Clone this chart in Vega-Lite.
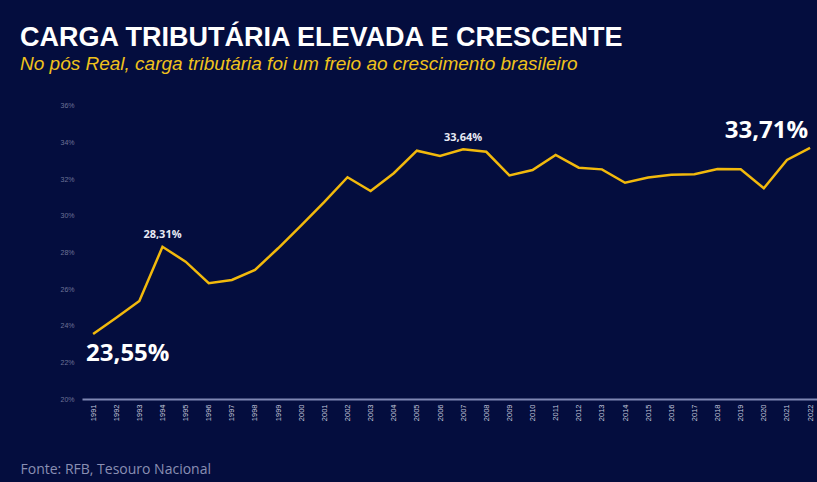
{
  "$schema": "https://vega.github.io/schema/vega-lite/v6.json",
  "width": 735,
  "height": 304,
  "autosize": {"type": "none"},
  "padding": {"left": 82, "top": 95, "right": 0, "bottom": 83},
  "background": "#040d3e",
  "config": {"view": {"stroke": null}},
  "title": {
    "text": "CARGA TRIBUTÁRIA ELEVADA E CRESCENTE",
    "subtitle": "No pós Real, carga tributária foi um freio ao crescimento brasileiro",
    "anchor": "start",
    "frame": "group",
    "dx": -62,
    "offset": 20,
    "font": "Liberation Sans",
    "fontSize": 27,
    "fontWeight": "bold",
    "color": "#ffffff",
    "subtitleFont": "Liberation Sans",
    "subtitleFontStyle": "italic",
    "subtitleFontSize": 19,
    "subtitleColor": "#f0c21c",
    "subtitlePadding": 3
  },
  "data": {
    "values": [
      {"ano": 1991, "valor": 23.55, "lbl": "23,55%", "kind": "bigL"},
      {"ano": 1992, "valor": 24.44},
      {"ano": 1993, "valor": 25.35},
      {"ano": 1994, "valor": 28.31, "lbl": "28,31%", "kind": "small"},
      {"ano": 1995, "valor": 27.5},
      {"ano": 1996, "valor": 26.32},
      {"ano": 1997, "valor": 26.5},
      {"ano": 1998, "valor": 27.05},
      {"ano": 1999, "valor": 28.23},
      {"ano": 2000, "valor": 29.48},
      {"ano": 2001, "valor": 30.76},
      {"ano": 2002, "valor": 32.11},
      {"ano": 2003, "valor": 31.36},
      {"ano": 2004, "valor": 32.33},
      {"ano": 2005, "valor": 33.56},
      {"ano": 2006, "valor": 33.27},
      {"ano": 2007, "valor": 33.64, "lbl": "33,64%", "kind": "small"},
      {"ano": 2008, "valor": 33.5},
      {"ano": 2009, "valor": 32.21},
      {"ano": 2010, "valor": 32.5},
      {"ano": 2011, "valor": 33.33},
      {"ano": 2012, "valor": 32.63},
      {"ano": 2013, "valor": 32.54},
      {"ano": 2014, "valor": 31.81},
      {"ano": 2015, "valor": 32.09},
      {"ano": 2016, "valor": 32.25},
      {"ano": 2017, "valor": 32.27},
      {"ano": 2018, "valor": 32.56},
      {"ano": 2019, "valor": 32.54},
      {"ano": 2020, "valor": 31.51},
      {"ano": 2021, "valor": 33.05},
      {"ano": 2022, "valor": 33.71, "lbl": "33,71%", "kind": "bigR"}
    ]
  },
  "encoding": {
    "x": {
      "field": "ano",
      "type": "quantitative",
      "scale": {"domain": [1990.52, 2022.3], "nice": false, "zero": false},
      "axis": {
        "values": [1991,1992,1993,1994,1995,1996,1997,1998,1999,2000,2001,2002,2003,2004,2005,2006,2007,2008,2009,2010,2011,2012,2013,2014,2015,2016,2017,2018,2019,2020,2021,2022],
        "format": "d",
        "labelAngle": -90,
        "labelFontSize": 7.5,
        "labelFont": "Liberation Sans",
        "labelColor": "#c5c8dc",
        "labelPadding": 5,
        "domainColor": "#7f87b3",
        "domainWidth": 2,
        "ticks": false,
        "grid": false,
        "title": "Fonte: RFB, Tesouro Nacional",
        "titleX": -62,
        "titleY": 74,
        "titleAlign": "left",
        "titleAnchor": "start",
        "titleBaseline": "alphabetic",
        "titleFont": "Open Sans",
        "titleFontSize": 14,
        "titleFontWeight": "normal",
        "titleColor": "#8a8fb3"
      }
    },
    "y": {
      "field": "valor",
      "type": "quantitative",
      "scale": {"domain": [20, 36.6], "nice": false, "zero": false},
      "axis": {
        "values": [20, 22, 24, 26, 28, 30, 32, 34, 36],
        "labelExpr": "datum.value + '%'",
        "labelFontSize": 7,
        "labelFont": "Liberation Sans",
        "labelColor": "#6e7398",
        "labelPadding": 8,
        "domain": false,
        "ticks": false,
        "grid": false,
        "title": null
      }
    }
  },
  "layer": [
    {
      "mark": {"type": "line", "color": "#f2b90c", "strokeWidth": 2.5}
    },
    {
      "transform": [{"filter": "datum.kind == 'small'"}],
      "mark": {"type": "text", "font": "Open Sans", "fontSize": 11, "fontWeight": "bold", "color": "#e8eaf4", "align": "center", "baseline": "alphabetic", "dy": -8.5},
      "encoding": {"text": {"field": "lbl"}}
    },
    {
      "transform": [{"filter": "datum.kind == 'bigL'"}],
      "mark": {"type": "text", "font": "Open Sans", "fontSize": 24, "fontWeight": "bold", "color": "#ffffff", "align": "left", "baseline": "alphabetic", "dx": -7, "dy": 27},
      "encoding": {"text": {"field": "lbl"}}
    },
    {
      "transform": [{"filter": "datum.kind == 'bigR'"}],
      "mark": {"type": "text", "font": "Open Sans", "fontSize": 24, "fontWeight": "bold", "color": "#ffffff", "align": "right", "baseline": "alphabetic", "dx": -2, "dy": -10},
      "encoding": {"text": {"field": "lbl"}}
    }
  ]
}
